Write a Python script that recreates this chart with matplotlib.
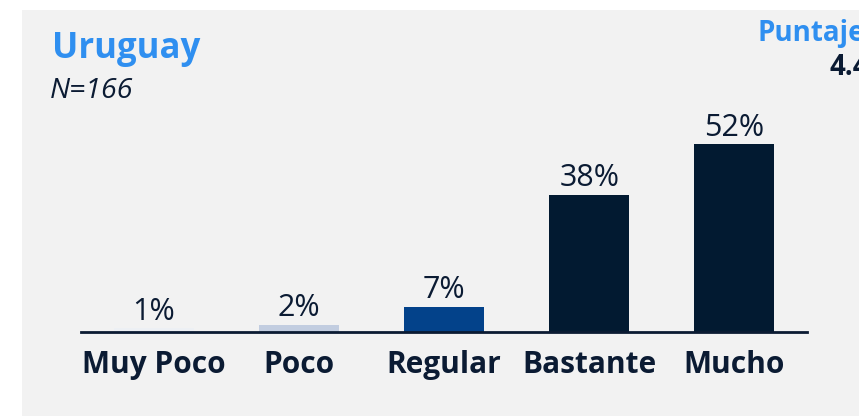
import matplotlib.pyplot as plt
from matplotlib.patches import Rectangle

categories = ['Muy Poco', 'Poco', 'Regular', 'Bastante', 'Mucho']
values = [1, 2, 7, 38, 52]
bar_colors = ['#edf0f4', '#c2cde0', '#03428a', '#021a31', '#021a31']

title = 'Uruguay'
subtitle = 'N=166'
score_label = 'Puntaje'
score_value = '4.4'

plt.rcParams['font.family'] = ['Open Sans', 'DejaVu Sans']
dark = '#0b1b33'
blue = '#2f8ff0'

fig = plt.figure(figsize=(8.59, 4.16), dpi=100)
fig.patch.set_facecolor('white')
fig.patches.append(Rectangle((22 / 859, 0), 1, 1 - 10 / 416, transform=fig.transFigure,
                             facecolor='#f2f2f2', edgecolor='none', zorder=-10))

# axes: baseline at y=332 px, x from 81 to 807 px
ax = fig.add_axes([81 / 859, (416 - 332) / 416, (807 - 81) / 859, (332 - 115) / 416])
ax.set_facecolor('none')
x = range(len(categories))
bars = ax.bar(x, values, width=0.55, color=bar_colors)
ax.set_xlim(-0.5, len(categories) - 0.5)
ax.set_ylim(0, 60)

for b, v in zip(bars, values):
    ax.annotate(f'{v}%', (b.get_x() + b.get_width() / 2, v), xytext=(0, 6),
                textcoords='offset points', ha='center', va='baseline',
                fontsize=22, color=dark)

for s in ['top', 'right', 'left']:
    ax.spines[s].set_visible(False)
ax.spines['bottom'].set_color(dark)
ax.spines['bottom'].set_linewidth(2)
ax.set_yticks([])
ax.set_xticks(list(x))
ax.set_xticklabels(categories, fontsize=21.5, fontweight='bold', color=dark)
ax.tick_params(axis='x', length=0, pad=13)

fig.text(52 / 859, 1 - 58 / 416, title, fontsize=25, fontweight='bold', color=blue,
         ha='left', va='baseline')
fig.text(50 / 859, 1 - 98 / 416, subtitle, fontsize=20.5, style='italic', color=dark,
         ha='left', va='baseline')
fig.text(757 / 859, 1 - 41 / 416, score_label, fontsize=20, fontweight='bold', color=blue,
         ha='left', va='baseline')
fig.text(830 / 859, 1 - 75 / 416, score_value, fontsize=20, fontweight='bold', color=dark,
         ha='left', va='baseline')

fig.savefig('out.png', dpi=100)
